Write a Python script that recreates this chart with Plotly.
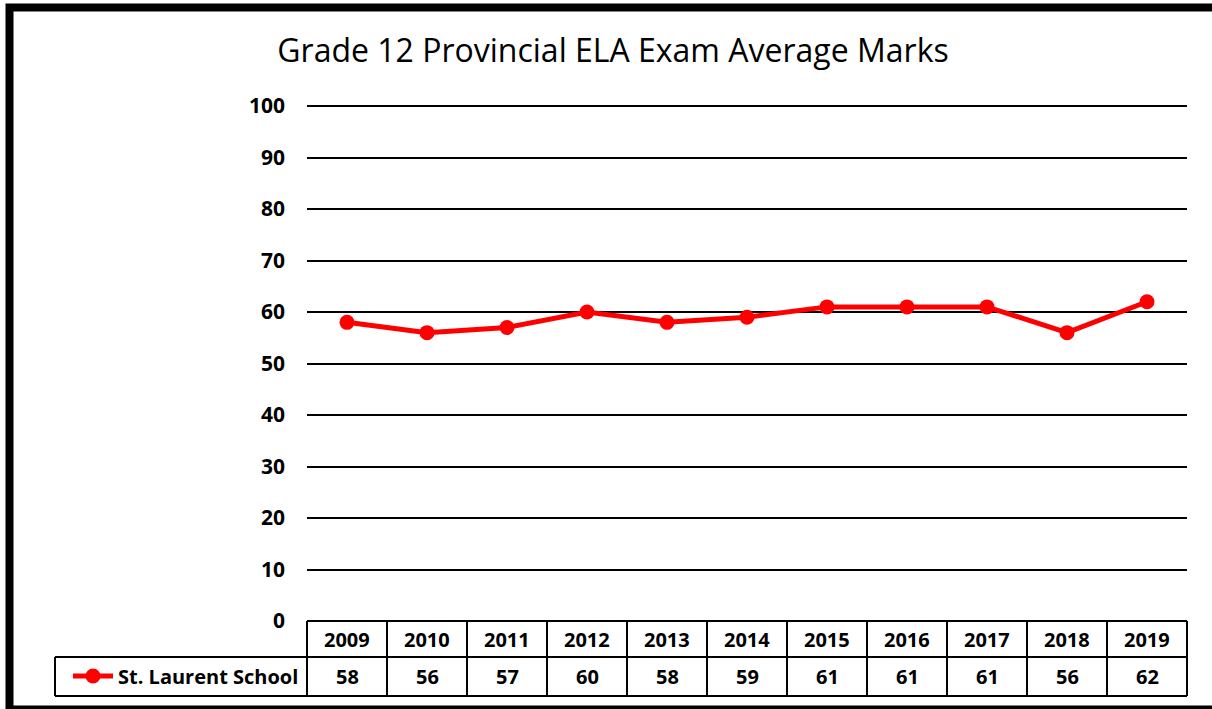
import plotly.graph_objects as go

title_text = "Grade 12 Provincial ELA Exam Average Marks"
years = ["2009", "2010", "2011", "2012", "2013", "2014", "2015", "2016", "2017", "2018", "2019"]
series_name = "St. Laurent School"
marks = [58, 56, 57, 60, 58, 59, 61, 61, 61, 56, 62]
y_ticks = [0, 10, 20, 30, 40, 50, 60, 70, 80, 90, 100]

W, H = 1212, 709
ML, MR, MT, MB = 307, 25, 104, 88
PW = W - ML - MR
PH = H - MT - MB
YTOP = 100.4

def px_x(px):
    return (px - ML) / PW

def px_y(py):
    return (H - MB - py) / PH

RED = "#FF0000"
FONT = "Open Sans"

fig = go.Figure()
fig.add_trace(go.Scatter(
    x=years, y=marks, mode="lines+markers", name=f"<b>{series_name}</b>",
    line=dict(color=RED, width=5),
    marker=dict(color=RED, size=15),
    showlegend=True,
))

shapes = []
row0 = px_y(621)
row1_bot = px_y(657)
row2_bot = px_y(696)
n = len(years)
lw = 2
shapes.append(dict(type="line", xref="paper", yref="paper", x0=0, x1=1, y0=row0, y1=row0,
                   line=dict(color="black", width=lw)))
shapes.append(dict(type="line", xref="paper", yref="paper", x0=px_x(55), x1=1, y0=row1_bot, y1=row1_bot,
                   line=dict(color="black", width=lw)))
shapes.append(dict(type="line", xref="paper", yref="paper", x0=px_x(55), x1=1, y0=row2_bot, y1=row2_bot,
                   line=dict(color="black", width=lw)))
for i in range(n + 1):
    shapes.append(dict(type="line", xref="paper", yref="paper", x0=i / n, x1=i / n, y0=row0, y1=row2_bot,
                       line=dict(color="black", width=lw)))
shapes.append(dict(type="line", xref="paper", yref="paper", x0=px_x(55), x1=px_x(55), y0=row1_bot, y1=row2_bot,
                   line=dict(color="black", width=lw)))
# outer border
shapes.append(dict(type="rect", xref="paper", yref="paper",
                   x0=px_x(9.5), x1=px_x(1240), y0=px_y(7.5), y1=px_y(709.5),
                   line=dict(color="black", width=8), fillcolor="rgba(0,0,0,0)"))

annotations = []
row1_c = px_y(639)
row2_c = px_y(676)
for i, (yr, v) in enumerate(zip(years, marks)):
    annotations.append(dict(x=i, xref="x", y=row1_c, yref="paper", text=f"<b>{yr}</b>",
                            showarrow=False, font=dict(family=FONT, size=20, color="black"),
                            xanchor="center", yanchor="middle"))
    annotations.append(dict(x=i, xref="x", y=row2_c, yref="paper", text=f"<b>{v}</b>",
                            showarrow=False, font=dict(family=FONT, size=20, color="black"),
                            xanchor="center", yanchor="middle"))

fig.update_layout(
    width=W, height=H,
    margin=dict(l=ML, r=MR, t=MT, b=MB),
    paper_bgcolor="white", plot_bgcolor="white",
    title=dict(text=title_text, x=613 / W, xanchor="center", y=1 - 51 / H, yanchor="middle",
               font=dict(family=FONT, size=32, color="black")),
    xaxis=dict(type="category", range=[-0.5, n - 0.5], showticklabels=False, showgrid=False,
               zeroline=False, showline=False, ticks=""),
    yaxis=dict(range=[0, YTOP], tickvals=y_ticks, ticktext=[f"<b>{t}</b>" for t in y_ticks],
               showgrid=True, gridcolor="black", gridwidth=1.5, zeroline=False, showline=False,
               ticks="", ticklabelstandoff=21,
               tickfont=dict(family=FONT, size=21, color="black")),
    showlegend=True,
    legend=dict(x=px_x(68), xanchor="left", y=row2_c, yanchor="middle", bgcolor="rgba(0,0,0,0)",
                font=dict(family=FONT, size=20, color="black"), itemwidth=40,
                borderwidth=0),
    shapes=shapes,
    annotations=annotations,
)

fig.write_html("out.html", config={"displayModeBar": False},
               post_script="document.body.style.margin='0';document.body.style.overflow='hidden';")
